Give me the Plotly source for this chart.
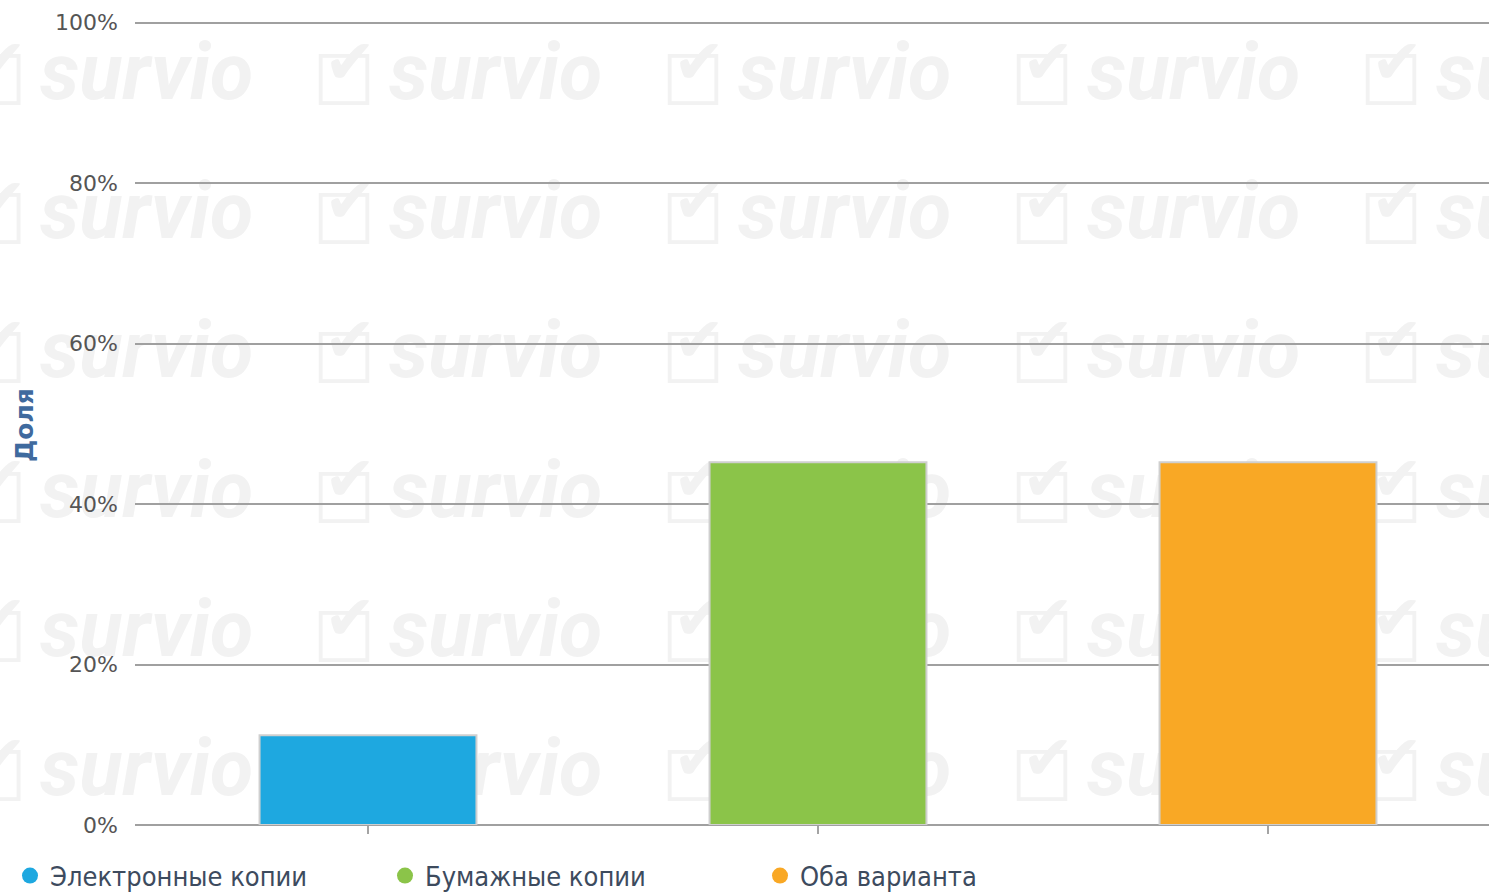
import plotly.graph_objects as go

categories = ["Электронные копии", "Бумажные копии", "Оба варианта"]
values = [11.2, 45.2, 45.2]
colors = ["#1ea8e0", "#8bc449", "#f9a825"]
y_ticks = [0, 20, 40, 60, 80, 100]
y_tick_labels = ["0%", "20%", "40%", "60%", "80%", "100%"]
y_title = "Доля"
watermark = "survio"

W, H = 1489, 892
PL, PT, PB = 135, 21, 825          # plot area edges in page pixels
L, T, B = PL, PT, H - PB
PW, PH = W - PL, PB - PT
Y_MAX = 100.2


def px_x(x):
    return (x - PL) / PW


def px_y(y):
    return (PB - y) / PH


fig = go.Figure()

# background watermark (decoration), drawn beneath everything
shapes = []
wm_color = "#f2f2f2"
for r in range(6):
    yc = 80 + r * 139.2
    for c in range(5):
        xt = 37 + c * 349
        shapes.append(dict(
            type="rect", xref="paper", yref="paper", layer="below",
            x0=px_x(xt), x1=px_x(xt + 230), y0=px_y(yc + 16), y1=px_y(yc - 44),
            line=dict(width=0), fillcolor="rgba(0,0,0,0)",
            label=dict(text=watermark, textposition="middle left", padding=0,
                       font=dict(family="Roboto", size=79, color=wm_color,
                                 weight="bold", style="italic"))))
        shapes.append(dict(
            type="rect", xref="paper", yref="paper", layer="below",
            x0=px_x(xt - 74), x1=px_x(xt - 10), y0=px_y(yc + 26), y1=px_y(yc - 34),
            line=dict(width=0), fillcolor="rgba(0,0,0,0)",
            label=dict(text="☐", textposition="middle center", padding=0,
                       font=dict(family="DejaVu Sans", size=70, color=wm_color,
                                 weight="bold"))))
        shapes.append(dict(
            type="rect", xref="paper", yref="paper", layer="below",
            x0=px_x(xt - 66), x1=px_x(xt - 6), y0=px_y(yc + 10), y1=px_y(yc - 56),
            line=dict(width=0), fillcolor="rgba(0,0,0,0)",
            label=dict(text="✔", textposition="middle center", padding=0,
                       font=dict(family="DejaVu Sans", size=62, color=wm_color))))

for cat, v, col in zip(categories, values, colors):
    fig.add_trace(go.Bar(
        x=[cat], y=[v], marker=dict(color=col, line=dict(color="#cfcfcf", width=2)),
        width=0.482, showlegend=False,
        hovertemplate="%{x}: %{y}%<extra></extra>"))
    fig.add_trace(go.Scatter(
        x=[None], y=[None], mode="markers", name=cat,
        marker=dict(symbol="circle", size=20, color=col)))

px_per_cat = 450.0
x_lo = -(368 - PL) / px_per_cat
x_hi = (W - 368) / px_per_cat

fig.update_layout(
    width=W, height=H,
    margin=dict(l=L, r=0, t=T, b=B, autoexpand=False),
    paper_bgcolor="white", plot_bgcolor="rgba(0,0,0,0)",
    shapes=shapes,
    xaxis=dict(type="category", range=[x_lo, x_hi], fixedrange=True,
               showticklabels=False, ticks="outside", ticklen=8, tickwidth=2,
               tickcolor="#a4a4a4", showgrid=False, showline=False, zeroline=False),
    yaxis=dict(range=[0, Y_MAX], tickvals=y_ticks, ticktext=y_tick_labels, fixedrange=True,
               showgrid=True, gridcolor="#a0a0a0", gridwidth=2,
               zeroline=True, zerolinecolor="#a0a0a0", zerolinewidth=2,
               tickfont=dict(family="DejaVu Sans", size=22, color="#555555"),
               ticklabelstandoff=16, ticks=""),
    legend=dict(orientation="h", x=px_x(10), xanchor="left",
                y=px_y(876), yanchor="middle",
                entrywidth=330, entrywidthmode="pixels", itemwidth=30,
                font=dict(family="DejaVu Sans Condensed", size=27, color="#3d4b5e"),
                bgcolor="rgba(0,0,0,0)"),
    annotations=[dict(text="<b>" + y_title + "</b>", textangle=-90, xref="paper", yref="paper",
                      x=px_x(24), y=px_y(425), xanchor="center", yanchor="middle",
                      showarrow=False,
                      font=dict(family="DejaVu Sans", size=25, color="#3f6a9e"))],
    showlegend=True,
)

fig.write_html(
    "out.html",
    config={"displayModeBar": False},
    post_script="document.body.style.margin='0';document.body.style.overflow='hidden';",
)
